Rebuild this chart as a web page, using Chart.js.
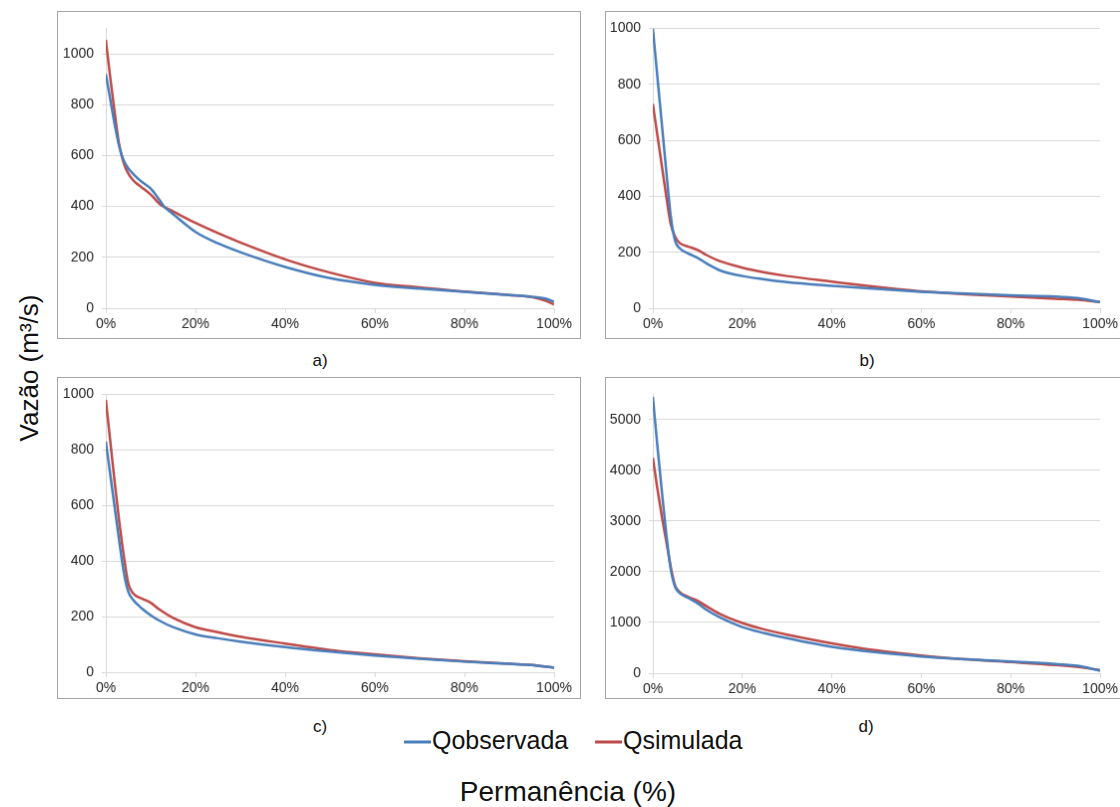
<!DOCTYPE html>
<html>
<head>
<meta charset="utf-8">
<script src="https://cdn.jsdelivr.net/npm/chart.js@4.4.1/dist/chart.umd.min.js"></script>
<style>
  body { margin: 0; width: 1120px; height: 807px; overflow: hidden; background: #fff; position: relative;
         font-family: "Liberation Sans", Arial, sans-serif; }
  canvas { position: absolute; border: 1px solid #a6a6a6; }
  .lbl { position: absolute; color: #111; white-space: nowrap; transform: translate(-50%, -50%); }
  .leg { position: absolute; top: 740px; transform: translateY(-50%); font-size: 25px; color: #111; white-space: nowrap; }
  .leg span { display: inline-block; width: 27px; height: 3px; vertical-align: middle; margin-right: 1px; }
</style>
</head>
<body>
<canvas id="chartA" width="524" height="328" style="left:57px;top:11px"></canvas>
<canvas id="chartB" width="520" height="328" style="left:605px;top:11px"></canvas>
<canvas id="chartC" width="524" height="322" style="left:57px;top:377px"></canvas>
<canvas id="chartD" width="520" height="322" style="left:605px;top:377px"></canvas>

<div class="lbl" style="left:320px;top:361px;font-size:17px">a)</div>
<div class="lbl" style="left:867px;top:361px;font-size:17px">b)</div>
<div class="lbl" style="left:320px;top:727px;font-size:17px">c)</div>
<div class="lbl" style="left:866px;top:727px;font-size:17px">d)</div>

<div class="leg" style="left:404px"><span style="background:#4a7ebb"></span>Qobservada</div>
<div class="leg" style="left:595px"><span style="background:#be4b48"></span>Qsimulada</div>

<div class="lbl" style="left:568px;top:792px;font-size:28px">Permanência (%)</div>
<div class="lbl" style="left:29px;top:368px;font-size:26px;transform:translate(-50%,-50%) rotate(-90deg)">Vazão (m³/s)</div>

<script>
// permanence (%) and flows (m3/s)
const pctA = [0, 1, 2, 3, 4, 5, 6, 7, 8, 10, 12, 13, 15, 20, 25, 30, 40, 50, 60, 70, 80, 90, 95, 98, 100];
const obsA = [920, 820, 720, 635, 580, 550, 530, 512, 497, 470, 425, 400, 370, 300, 255, 220, 162, 118, 92, 77, 64, 52, 45, 38, 25];
const simA = [1055, 905, 765, 640, 570, 530, 505, 488, 475, 447, 410, 398, 380, 335, 295, 258, 192, 140, 100, 82, 65, 52, 44, 30, 15];

const pctB = [0, 1, 2, 3, 4, 5, 6, 8, 10, 12, 15, 20, 25, 30, 40, 50, 60, 70, 80, 90, 95, 100];
const obsB = [1000, 830, 660, 490, 330, 240, 214, 195, 180, 160, 135, 115, 103, 93, 80, 69, 59, 52, 46, 42, 36, 22];
const simB = [730, 620, 510, 400, 300, 255, 233, 220, 208, 190, 168, 145, 128, 115, 95, 76, 60, 50, 42, 34, 30, 22];

const pctC = [0, 1, 2, 3, 4, 5, 6, 8, 10, 12, 15, 20, 25, 30, 40, 50, 60, 70, 80, 90, 95, 100];
const obsC = [830, 710, 590, 470, 360, 290, 262, 230, 205, 185, 162, 136, 122, 110, 90, 74, 60, 48, 38, 30, 26, 16];
const simC = [980, 830, 680, 540, 420, 320, 285, 265, 250, 225, 195, 162, 144, 128, 103, 80, 64, 50, 39, 30, 26, 16];

const pctD = [0, 1, 2, 3, 4, 5, 6, 8, 10, 12, 15, 20, 25, 30, 40, 50, 60, 70, 80, 90, 95, 100];
const obsD = [5450, 4500, 3600, 2750, 2050, 1700, 1580, 1480, 1380, 1250, 1100, 910, 790, 690, 520, 410, 330, 275, 230, 180, 145, 50];
const simD = [4250, 3650, 3100, 2600, 2100, 1720, 1600, 1500, 1430, 1320, 1170, 990, 860, 760, 590, 450, 350, 275, 220, 160, 120, 60];

// axis tick labels
const xTicks = [0, 20, 40, 60, 80, 100];
const yTicksSmall = [0, 200, 400, 600, 800, 1000];
const yTicksD = [0, 1000, 2000, 3000, 4000, 5000];

const seriesNames = ["Qobservada", "Qsimulada"];

const BLUE = "#4a7ebb";
const RED = "#be4b48";
const GRID = "#d9d9d9";

function pts(xs, ys) {
  return xs.map((x, i) => ({ x: x, y: ys[i] }));
}

function drawPanel(id, xs, obs, sim, yMax, yTicks, box) {
  const ctx = document.getElementById(id).getContext("2d");
  const line = { borderWidth: 2.5, pointRadius: 0, tension: 0.4, cubicInterpolationMode: "monotone", fill: false };
  const tickFont = { family: "'Liberation Sans', Arial", size: 14 };
  new Chart(ctx, {
    type: "line",
    data: {
      datasets: [
        { label: seriesNames[0], data: pts(xs, obs), borderColor: BLUE, backgroundColor: BLUE, ...line },
        { label: seriesNames[1], data: pts(xs, sim), borderColor: RED, backgroundColor: RED, ...line },
      ],
    },
    options: {
      responsive: false,
      animation: false,
      layout: { padding: { top: box.top, right: box.right, left: 0, bottom: 0 } },
      plugins: { legend: { display: false }, tooltip: { enabled: false } },
      scales: {
        x: {
          type: "linear",
          min: 0,
          max: 100,
          afterBuildTicks: (s) => { s.ticks = xTicks.map((v) => ({ value: v })); },
          afterFit: (s) => { s.height = box.bottom; },
          grid: { drawOnChartArea: false, drawTicks: true, tickLength: 5, color: GRID },
          border: { color: GRID },
          ticks: {
            autoSkip: false,
            padding: 3,
            maxRotation: 0,
            color: "#262626",
            font: tickFont,
            callback: (v) => v + "%",
          },
        },
        y: {
          min: 0,
          max: yMax,
          afterBuildTicks: (s) => { s.ticks = yTicks.map((v) => ({ value: v })); },
          afterFit: (s) => { s.width = box.left; },
          grid: { color: GRID, drawTicks: true, tickLength: 4 },
          border: { color: GRID },
          ticks: {
            autoSkip: false,
            padding: 8,
            color: "#262626",
            font: tickFont,
            callback: (v) => String(v),
          },
        },
      },
    },
  });
}

drawPanel("chartA", pctA, obsA, simA, 1100, yTicksSmall, { left: 48, top: 11, right: 26, bottom: 30 });
drawPanel("chartB", pctB, obsB, simB, 1000, yTicksSmall, { left: 47, top: 11, right: 24, bottom: 30 });
drawPanel("chartC", pctC, obsC, simC, 1000, yTicksSmall, { left: 48, top: 10, right: 26, bottom: 26 });
drawPanel("chartD", pctD, obsD, simD, 5500, yTicksD, { left: 47, top: 9, right: 24, bottom: 25 });
</script>
</body>
</html>
